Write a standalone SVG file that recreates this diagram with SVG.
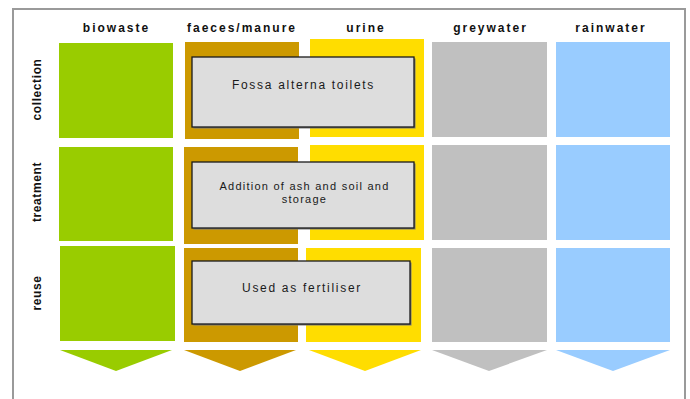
<svg xmlns="http://www.w3.org/2000/svg" width="690" height="399" viewBox="0 0 690 399">
  <style>
    .hdr { font-family: "Liberation Sans", Arial, sans-serif; font-size: 12px; font-weight: bold; letter-spacing: 2px; fill: #111; text-anchor: middle; }
    .row { font-family: "Liberation Sans", Arial, sans-serif; font-size: 12px; font-weight: bold; letter-spacing: 0.6px; fill: #111; text-anchor: middle; }
    .box { fill: #dddddd; stroke: #1a1a1a; stroke-width: 1.3; }
    .shadow { fill: #7a7a7a; }
    .lbl { font-family: "Liberation Sans", Arial, sans-serif; font-size: 12px; letter-spacing: 1.7px; fill: #1a1a1a; text-anchor: middle; }
    .lbl2 { font-family: "Liberation Sans", Arial, sans-serif; font-size: 11px; letter-spacing: 1.25px; fill: #1a1a1a; text-anchor: middle; }
    .g { fill: #99cc00; }
    .b { fill: #cc9900; }
    .y { fill: #ffdd00; }
    .s { fill: #c0c0c0; }
    .w { fill: #99ccff; }
  </style>
  <rect x="0" y="0" width="690" height="399" fill="#ffffff"/>
  <rect x="13" y="9" width="672" height="400" fill="none" stroke="#9a9a9a" stroke-width="2"/>

  <g id="headers">
    <text class="hdr" x="116.5" y="32">biowaste</text>
    <text class="hdr" x="242" y="32">faeces/manure</text>
    <text class="hdr" x="366" y="32">urine</text>
    <text class="hdr" x="490.5" y="32">greywater</text>
    <text class="hdr" x="611" y="32">rainwater</text>
  </g>

  <g id="row-labels">
    <text class="row" transform="translate(41,89.5) rotate(-90)">collection</text>
    <text class="row" transform="translate(41,192) rotate(-90)">treatment</text>
    <text class="row" transform="translate(41,293) rotate(-90)">reuse</text>
  </g>

  <g id="grid">
    <rect class="g" x="59" y="43" width="114" height="95"/>
    <rect class="b" x="185" y="42" width="114" height="97"/>
    <rect class="y" x="310" y="39" width="114" height="98"/>
    <rect class="s" x="432" y="42" width="115" height="95"/>
    <rect class="w" x="556" y="42" width="114" height="95"/>

    <rect class="g" x="59" y="147" width="114" height="94"/>
    <rect class="b" x="184" y="147" width="114" height="97"/>
    <rect class="y" x="310" y="145" width="114" height="95"/>
    <rect class="s" x="432" y="145" width="115" height="95"/>
    <rect class="w" x="556" y="145" width="114" height="95"/>

    <rect class="g" x="60" y="246" width="115" height="95"/>
    <rect class="b" x="184" y="248" width="114" height="94"/>
    <rect class="y" x="306" y="248" width="115" height="94"/>
    <rect class="s" x="432" y="248" width="115" height="94"/>
    <rect class="w" x="556" y="248" width="114" height="94"/>
  </g>

  <g id="node-collection">
    <rect class="shadow" x="193.5" y="58.5" width="222" height="70"/>
    <rect class="box" x="192" y="57" width="222" height="70"/>
    <text class="lbl" x="303.5" y="89">Fossa alterna toilets</text>
  </g>

  <g id="node-treatment">
    <rect class="shadow" x="193.5" y="163.5" width="222" height="66"/>
    <rect class="box" x="192" y="162" width="222" height="66"/>
    <text class="lbl2" x="304.5" y="190">Addition of ash and soil and</text>
    <text class="lbl2" x="304.5" y="203">storage</text>
  </g>

  <g id="node-reuse">
    <rect class="shadow" x="193.5" y="262.5" width="218" height="63"/>
    <rect class="box" x="192" y="261" width="218" height="63"/>
    <text class="lbl" x="302" y="292">Used as fertiliser</text>
  </g>

  <g id="connectors">
    <polygon class="g" points="60,350 172,350 116,371"/>
    <polygon class="b" points="184,350 296,350 240,371"/>
    <polygon class="y" points="309,350 421,350 365,371"/>
    <polygon class="s" points="432,350 547,350 489,371"/>
    <polygon class="w" points="556,350 670,350 613,371"/>
  </g>
</svg>
